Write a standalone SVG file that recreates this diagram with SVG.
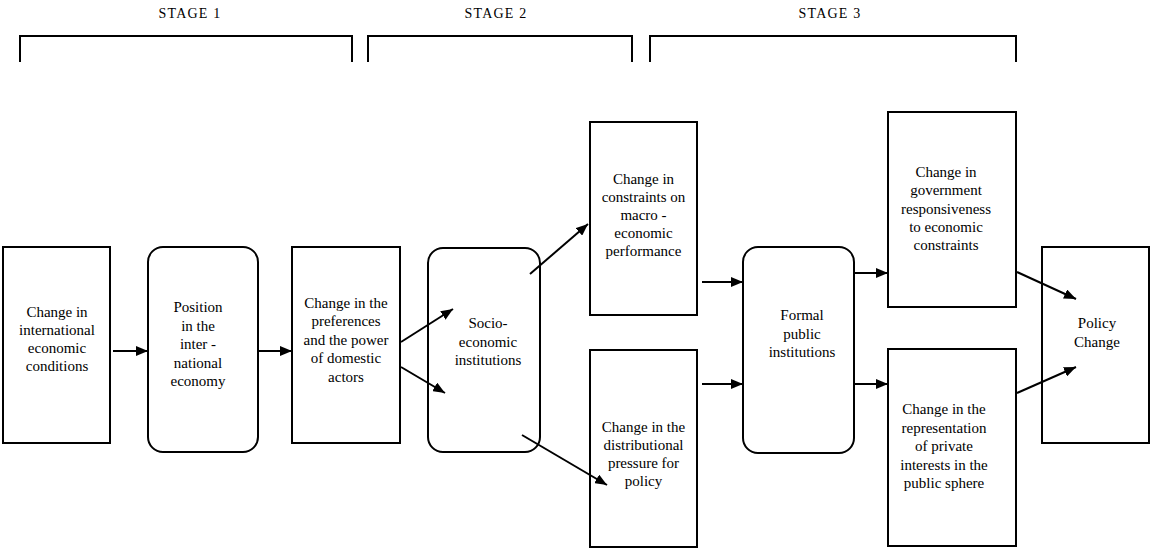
<svg xmlns="http://www.w3.org/2000/svg" width="1151" height="550" viewBox="0 0 1151 550">
<style>
.box{fill:#fff;stroke:#000;stroke-width:2}
.br{fill:none;stroke:#000;stroke-width:2}
.t{font-family:"Liberation Serif","Times New Roman",serif;font-size:15px;fill:#000;text-anchor:middle}
.st{font-family:"Liberation Serif","Times New Roman",serif;font-size:14px;fill:#000;text-anchor:middle;letter-spacing:1.2px}
.c line{stroke:#000;stroke-width:2;marker-end:url(#ah)}
</style>
<defs>
<marker id="ah" viewBox="0 0 12 10" markerUnits="userSpaceOnUse" markerWidth="12" markerHeight="10" refX="12" refY="5" orient="auto">
<path d="M0,0 L12,5 L0,10 z" fill="#000"/>
</marker>
</defs>
<rect width="1151" height="550" fill="#fff"/>
<g id="stages">
<text class="st" x="190" y="18">STAGE 1</text>
<text class="st" x="496" y="18">STAGE 2</text>
<text class="st" x="830" y="18">STAGE 3</text>
<path class="br" d="M20,62 V36 H352 V62"/>
<path class="br" d="M368,62 V36 H632 V62"/>
<path class="br" d="M650,62 V36 H1016 V62"/>
</g>
<g id="n1">
<rect class="box" x="3" y="247" width="107" height="196"/>
<text class="t" x="57"><tspan x="57" y="317">Change in</tspan><tspan x="57" y="335">international</tspan><tspan x="57" y="353">economic</tspan><tspan x="57" y="371">conditions</tspan></text>
</g>
<g id="n2">
<rect class="box" x="148" y="247" width="110" height="205" rx="15" ry="15"/>
<text class="t" x="198"><tspan x="198" y="312">Position</tspan><tspan x="198" y="330.5">in the</tspan><tspan x="198" y="349">inter -</tspan><tspan x="198" y="367.5">national</tspan><tspan x="198" y="386">economy</tspan></text>
</g>
<g id="n3">
<rect class="box" x="292" y="247" width="108" height="196"/>
<text class="t" x="346"><tspan x="346" y="308">Change in the</tspan><tspan x="346" y="326">preferences</tspan><tspan x="346" y="344.5">and the power</tspan><tspan x="346" y="363">of domestic</tspan><tspan x="346" y="381.5">actors</tspan></text>
</g>
<g id="n4">
<rect class="box" x="428" y="248" width="112" height="204" rx="15" ry="15"/>
<text class="t" x="488"><tspan x="488" y="328">Socio-</tspan><tspan x="488" y="346.5">economic</tspan><tspan x="488" y="365">institutions</tspan></text>
</g>
<g id="n5">
<rect class="box" x="590" y="122" width="107" height="193"/>
<text class="t" x="643.5"><tspan x="643.5" y="184">Change in</tspan><tspan x="643.5" y="202">constraints on</tspan><tspan x="643.5" y="220">macro -</tspan><tspan x="643.5" y="238">economic</tspan><tspan x="643.5" y="256">performance</tspan></text>
</g>
<g id="n6">
<rect class="box" x="590" y="350" width="107" height="197"/>
<text class="t" x="643.5"><tspan x="643.5" y="432">Change in the</tspan><tspan x="643.5" y="450">distributional</tspan><tspan x="643.5" y="468">pressure for</tspan><tspan x="643.5" y="486">policy</tspan></text>
</g>
<g id="n7">
<rect class="box" x="743" y="247" width="111" height="206" rx="15" ry="15"/>
<text class="t" x="802"><tspan x="802" y="320">Formal</tspan><tspan x="802" y="338.5">public</tspan><tspan x="802" y="357">institutions</tspan></text>
</g>
<g id="n8">
<rect class="box" x="888" y="112" width="128" height="195"/>
<text class="t" x="946"><tspan x="946" y="177">Change in</tspan><tspan x="946" y="195">government</tspan><tspan x="946" y="213.5">responsiveness</tspan><tspan x="946" y="232">to economic</tspan><tspan x="946" y="250">constraints</tspan></text>
</g>
<g id="n9">
<rect class="box" x="888" y="349" width="128" height="197"/>
<text class="t" x="944"><tspan x="944" y="414">Change in the</tspan><tspan x="944" y="432.5">representation</tspan><tspan x="944" y="451">of private</tspan><tspan x="944" y="469.5">interests in the</tspan><tspan x="944" y="488">public sphere</tspan></text>
</g>
<g id="n10">
<rect class="box" x="1042" y="247" width="107" height="196"/>
<text class="t" x="1097"><tspan x="1097" y="328">Policy</tspan><tspan x="1097" y="347">Change</tspan></text>
</g>
<g id="connectors" class="c">
<line x1="113" y1="351" x2="148" y2="351"/>
<line x1="258" y1="351" x2="292" y2="351"/>
<line x1="401" y1="342" x2="453" y2="309"/>
<line x1="401" y1="367" x2="445" y2="393"/>
<line x1="530" y1="274" x2="588" y2="224"/>
<line x1="522" y1="435" x2="607" y2="485"/>
<line x1="702" y1="282" x2="743" y2="282"/>
<line x1="702" y1="384" x2="743" y2="384"/>
<line x1="854" y1="273" x2="888" y2="273"/>
<line x1="854" y1="384" x2="888" y2="384"/>
<line x1="1017" y1="272" x2="1076" y2="299"/>
<line x1="1017" y1="393" x2="1076" y2="367"/>
</g>
</svg>
